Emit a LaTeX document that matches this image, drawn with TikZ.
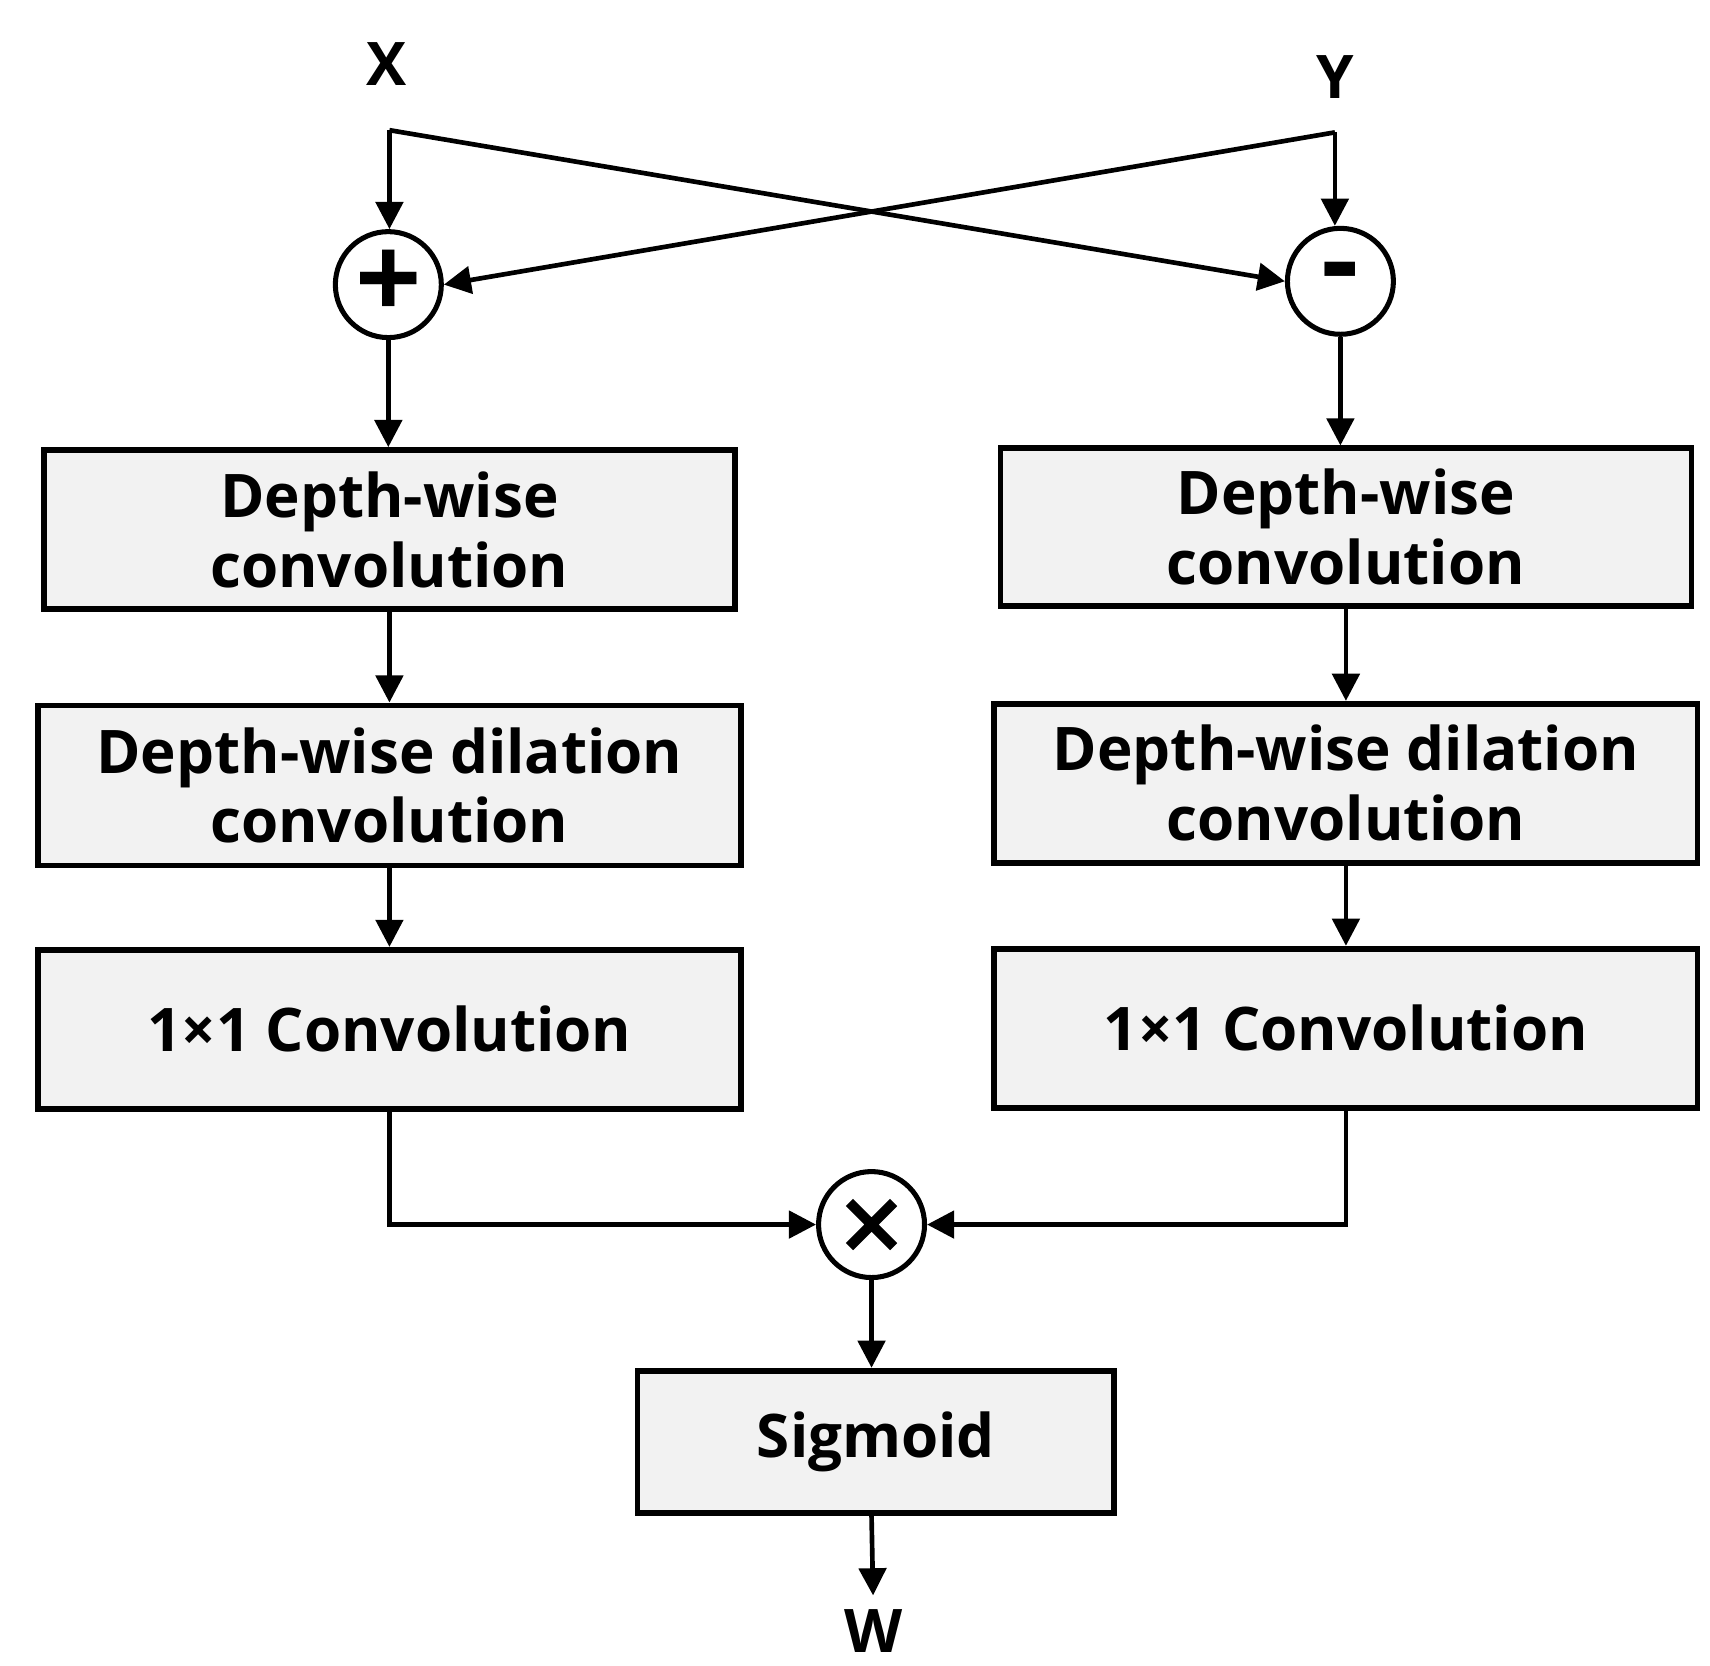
\documentclass[tikz,border=0pt]{standalone}
\usepackage{fontspec}
\setmainfont{Open Sans}
\usetikzlibrary{arrows.meta}
\definecolor{boxgray}{HTML}{F2F2F2}
\tikzset{
  blk/.style={draw,line width=1.5pt,fill=boxgray,align=center,inner sep=0pt},
  op/.style={draw,circle,line width=1.3pt,minimum size=0.96cm,inner sep=0pt},
  lbl/.style={font=\bfseries\fontsize{15.5}{18}\selectfont},
  arr/.style={line width=1.2pt,-{Triangle[length=7pt,width=7pt]}}
}
\begin{document}
\begin{tikzpicture}[x=0.01cm,y=-0.01cm,every node/.style={lbl}]
  \useasboundingbox (0,0) rectangle (1550,1510);

  % inputs
  \node (x) at (350,58) {X};
  \node (y) at (1210,70) {Y};
  \coordinate (xs) at (353,118);
  \coordinate (ys) at (1210,120);

  % operators
  \node[op] (plus) at (352,258) {\fontsize{30}{30}\selectfont +};
  \node[op] (minus) at (1215,255) {\fontsize{30}{30}\selectfont -};
  \node[op] (times) at (790,1110) {};
  \draw[line width=2.6pt] ([shift={(-0.2cm,-0.2cm)}]times.center) -- ([shift={(0.2cm,0.2cm)}]times.center)
    ([shift={(-0.2cm,0.2cm)}]times.center) -- ([shift={(0.2cm,-0.2cm)}]times.center);

  % left branch
  \node[blk,minimum width=6.26cm,minimum height=1.44cm] (dwl) at (353,480) {Depth-wise\\convolution};
  \node[blk,minimum width=6.37cm,minimum height=1.45cm] (ddl) at (353,712) {Depth-wise dilation\\convolution};
  \node[blk,minimum width=6.37cm,minimum height=1.44cm] (cl) at (353,933) {1×1 Convolution};

  % right branch
  \node[blk,minimum width=6.26cm,minimum height=1.43cm] (dwr) at (1220,478) {Depth-wise\\convolution};
  \node[blk,minimum width=6.37cm,minimum height=1.44cm] (ddr) at (1220,710) {Depth-wise dilation\\convolution};
  \node[blk,minimum width=6.37cm,minimum height=1.44cm] (cr) at (1220,932) {1×1 Convolution};

  % output
  \node[blk,minimum width=4.32cm,minimum height=1.29cm] (sig) at (794,1307) {Sigmoid};
  \node (w) at (792,1478) {W};

  % connectors
  \draw[arr] (xs) -- (xs|-plus.north);
  \draw[arr] (ys) -- (ys|-minus.north);
  \draw[arr] (xs) -- (minus.west);
  \draw[arr] (ys) -- (plus.east);
  \draw[arr] (plus) -- (plus|-dwl.north);
  \draw[arr] (minus) -- (minus|-dwr.north);
  \draw[arr] (dwl) -- (ddl);
  \draw[arr] (ddl) -- (cl);
  \draw[arr] (dwr) -- (ddr);
  \draw[arr] (ddr) -- (cr);
  \draw[arr] (cl.south) |- (times.west);
  \draw[arr] (cr.south) |- (times.east);
  \draw[arr] (times) -- (times|-sig.north);
  \draw[arr] (times|-sig.south) -- (w);
\end{tikzpicture}
\end{document}
